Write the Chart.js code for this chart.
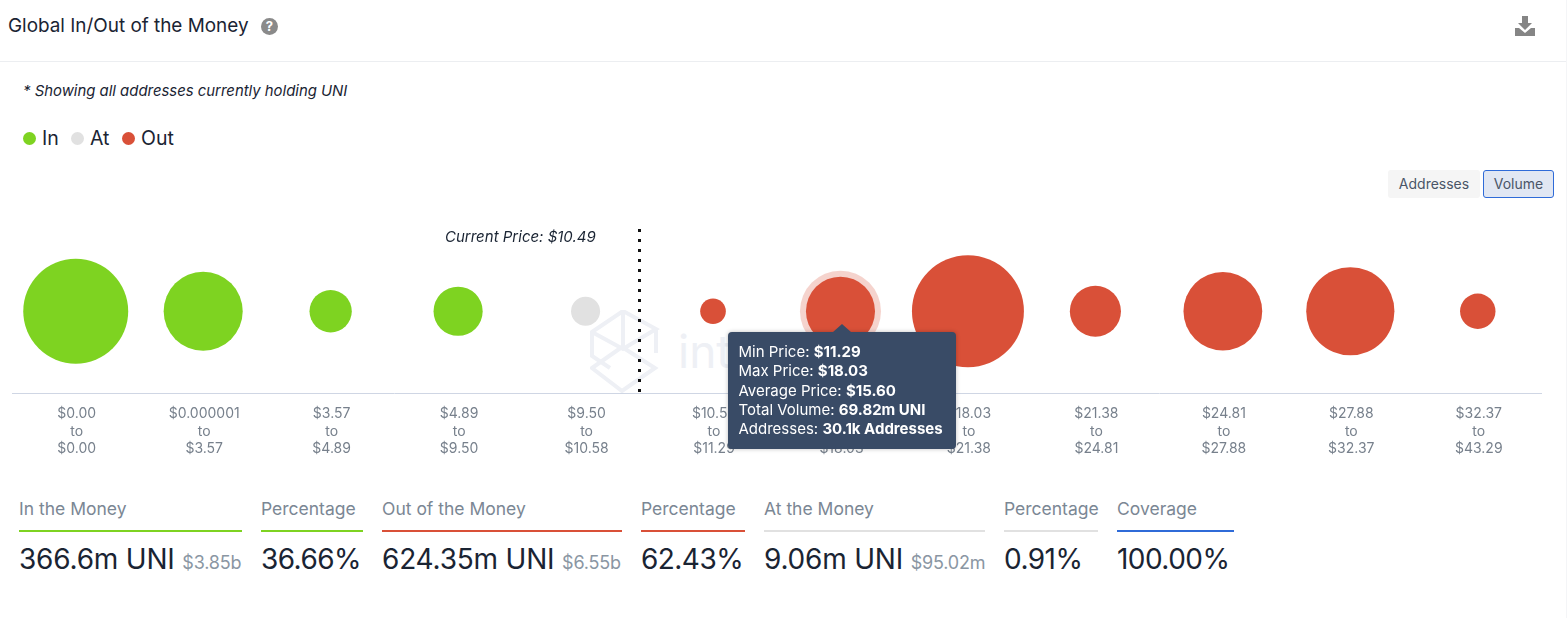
<!DOCTYPE html>
<html><head><meta charset="utf-8">
<script src="https://cdn.jsdelivr.net/npm/chart.js@4"></script>
<style>
html,body{margin:0;padding:0;background:#fff;width:1567px;height:618px;overflow:hidden;font-family:Inter,sans-serif;color:#1a2433}
.abs{position:absolute;white-space:nowrap}
#chartBox{position:absolute;left:0;top:200px;width:1567px;height:270px}
.lab{font-size:17.5px;color:#7b8794;line-height:22px}
.big{font-size:28px;line-height:34px;color:#1a2433;letter-spacing:-.2px}
.pct{letter-spacing:-.55px}
.sm{font-size:18px;color:#8a96a3;letter-spacing:-.2px}
.rule{position:absolute;height:2px}
.dot{position:absolute;width:13px;height:13px;border-radius:50%}
#tip{position:absolute;background:#394b66;color:#fff;border-radius:4px;font-size:15px;line-height:19.2px;padding:10px 10px;white-space:nowrap;box-shadow:0 0 4px rgba(0,0,0,.25);box-sizing:border-box;width:228px;height:117px}
#tip b{font-weight:700}
#tip:before{content:"";position:absolute;left:50%;top:-8px;margin-left:-9px;border-left:9px solid transparent;border-right:9px solid transparent;border-bottom:8px solid #394b66}
</style></head><body>
<div class="abs" style="left:8px;top:14px;font-size:18.9px;line-height:24px">Global In/Out of the Money</div>
<svg class="abs" style="left:261px;top:18px" width="17" height="17" viewBox="0 0 17 17"><circle cx="8.5" cy="8.5" r="8.5" fill="#8a8a8a"/><text x="8.5" y="13.2" text-anchor="middle" font-size="13" font-weight="700" font-family="Inter" fill="#fff">?</text></svg>
<svg class="abs" style="left:1515px;top:16px" width="20" height="20" viewBox="0 0 20 20"><path fill="#858585" d="M7 0h6v7h4l-7 7-7-7h4zM0 12h4l6 5 6-5h4v8H0z"/></svg>
<div class="abs" style="left:0;top:61px;width:1567px;height:1px;background:#eceef1"></div>
<div class="abs" style="left:1566px;top:0;width:1px;height:618px;background:#f4f5f7"></div>
<div class="abs" style="left:23px;top:81px;font-size:14.9px;line-height:20px;font-style:italic"> * Showing all addresses currently holding UNI</div>
<div class="dot" style="left:23px;top:132px;background:#7ed321"></div><div class="abs" style="left:42px;top:126px;font-size:19.5px;line-height:25px">In</div>
<div class="dot" style="left:71px;top:132px;background:#e1e1e1"></div><div class="abs" style="left:90px;top:126px;font-size:19.5px;line-height:25px">At</div>
<div class="dot" style="left:122px;top:132px;background:#d95038"></div><div class="abs" style="left:141px;top:126px;font-size:19.5px;line-height:25px">Out</div>
<div class="abs" style="left:1388px;top:170px;width:92px;height:28px;background:#f5f5f5;border-radius:3px;text-align:center;font-size:14px;line-height:28px;color:#4a5568">Addresses</div>
<div class="abs" style="left:1483px;top:170px;width:71px;height:28px;background:#e1e7f3;border:1px solid #2f6bd8;border-radius:3px;box-sizing:border-box;text-align:center;font-size:14px;line-height:26px;color:#4a5568">Volume</div>

<svg class="abs" style="left:590px;top:310px" width="400" height="90" viewBox="0 0 400 90"><g fill="none" stroke="#eef0f5" stroke-width="4"><path d="M2 22L33 1l33 18-33 20zM2 58l30-21 33 21-33 23zM2 22v24l18 12M66 19v24M33 1v36"/></g><text x="88" y="58" font-family="Inter" font-size="46" fill="#eef0f5">intotheblock</text></svg>

<div id="chartBox"><canvas id="c"></canvas></div>
<div class="abs" style="left:445px;top:228px;font-size:15px;line-height:18px;font-style:italic">Current Price: $10.49</div>
<div id="tip"></div>

<div class="abs lab" style="left:19px;top:498px">In the Money</div><div class="rule" style="left:19px;top:530px;width:223px;background:#7ed321"></div>
<div class="abs big" style="left:19px;top:542px">366.6m UNI <span class="sm">$3.85b</span></div>
<div class="abs lab" style="left:261px;top:498px">Percentage</div><div class="rule" style="left:261px;top:530px;width:102px;background:#7ed321"></div>
<div class="abs big pct" style="left:261px;top:542px">36.66%</div>
<div class="abs lab" style="left:382px;top:498px">Out of the Money</div><div class="rule" style="left:382px;top:530px;width:240px;background:#d95038"></div>
<div class="abs big" style="left:382px;top:542px">624.35m UNI <span class="sm">$6.55b</span></div>
<div class="abs lab" style="left:641px;top:498px">Percentage</div><div class="rule" style="left:641px;top:530px;width:104px;background:#d95038"></div>
<div class="abs big pct" style="left:641px;top:542px">62.43%</div>
<div class="abs lab" style="left:764px;top:498px">At the Money</div><div class="rule" style="left:764px;top:530px;width:221px;background:#e1e1e1"></div>
<div class="abs big" style="left:764px;top:542px">9.06m UNI <span class="sm">$95.02m</span></div>
<div class="abs lab" style="left:1004px;top:498px">Percentage</div><div class="rule" style="left:1004px;top:530px;width:94px;background:#e1e1e1"></div>
<div class="abs big pct" style="left:1004px;top:542px">0.91%</div>
<div class="abs lab" style="left:1117px;top:498px">Coverage</div><div class="rule" style="left:1117px;top:530px;width:117px;background:#2f6bd8"></div>
<div class="abs big pct" style="left:1117px;top:542px">100.00%</div>

<script>
const minPrices = ["$0.00","$0.000001","$3.57","$4.89","$9.50","$10.58","$11.29","$18.03","$21.38","$24.81","$27.88","$32.37"];
const maxPrices = ["$0.00","$3.57","$4.89","$9.50","$10.58","$11.29","$18.03","$21.38","$24.81","$27.88","$32.37","$43.29"];
const volumes = [210, 99, 21, 30, 9.06, 7, 69.82, 250, 33, 98, 132, 14];
const zones = ["In","In","In","In","At","Out","Out","Out","Out","Out","Out","Out"];
const zoneColors = {In:"#7ed321",At:"#e1e1e1",Out:"#d95038"};
const currentPricePosition = 4.42;
const activeIndex = 6;
const tipRows = [["Min Price:","$11.29"],["Max Price:","$18.03"],["Average Price:","$15.60"],["Total Volume:","69.82m UNI"],["Addresses:","30.1k Addresses"]];

const labels = minPrices.map((m,i)=>[m,"to",maxPrices[i]]);
const radiusOf = v => 9.84*Math.cbrt(v)-6;

const extras = {id:"extras",
  beforeDatasetsDraw(ch){
    const g=ch.ctx, e=ch.getDatasetMeta(0).data[activeIndex];
    g.save();g.beginPath();g.arc(e.x,e.y,radiusOf(volumes[activeIndex])+6,0,Math.PI*2);
    g.fillStyle="rgba(217,80,56,.25)";g.fill();g.restore();
  },
  afterDatasetsDraw(ch){
    const g=ch.ctx, x=Math.round(ch.scales.x.getPixelForValue(currentPricePosition))+.5;
    g.save();g.strokeStyle="#111";g.lineWidth=3;g.setLineDash([3,7]);
    g.beginPath();g.moveTo(x,ch.chartArea.top);g.lineTo(x,ch.chartArea.bottom-1);g.stroke();g.restore();
  }
};

const chart = new Chart(document.getElementById("c"),{
  type:"bubble",
  data:{labels,datasets:[{
    data:volumes.map((v,i)=>({x:i,y:0,r:radiusOf(v)})),
    backgroundColor:zones.map(z=>zoneColors[z]),
    hoverBackgroundColor:zones.map(z=>zoneColors[z]),
    borderWidth:0,hoverBorderWidth:0,hoverRadius:0,clip:false
  }]},
  options:{
    responsive:true,maintainAspectRatio:false,animation:false,
    layout:{autoPadding:false,padding:{left:12,right:25.5,top:29,bottom:0}},
    plugins:{legend:{display:false},tooltip:{enabled:false}},
    scales:{
      x:{type:"category",offset:true,
        grid:{display:false,drawTicks:false},
        border:{color:"#cfd6e4",width:1},
        ticks:{color:"#77808c",font:{family:"Inter",size:14,lineHeight:1.25},padding:12,labelOffset:1,maxRotation:0,autoSkip:false}},
      y:{display:false,min:-1,max:1}
    }
  },
  plugins:[extras]
});
chart.setActiveElements([{datasetIndex:0,index:activeIndex}]);chart.update();
const el = chart.getDatasetMeta(0).data[activeIndex], box = document.getElementById("chartBox").getBoundingClientRect();
const tip = document.getElementById("tip");
tip.innerHTML = tipRows.map(r=>r[0]+" <b>"+r[1]+"</b>").join("<br>");
tip.style.left = (box.left+el.x-112)+"px";
tip.style.top = (box.top+el.y+21)+"px";
</script>
</body></html>
